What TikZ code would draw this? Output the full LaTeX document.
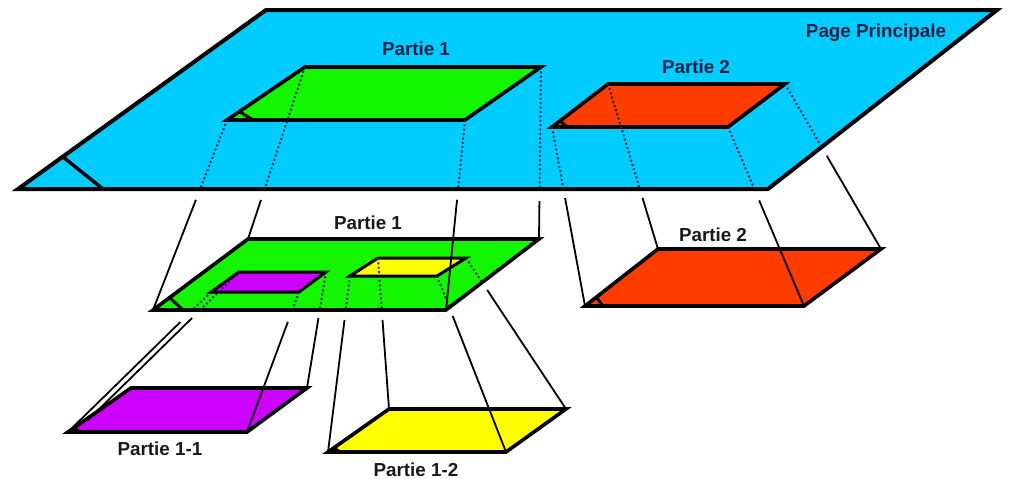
\documentclass[tikz,border=0pt]{standalone}
\usepackage{fontspec}
\setmainfont{Liberation Sans}
\usetikzlibrary{calc}

\definecolor{skyfill}{RGB}{0,204,255}
\definecolor{leaffill}{RGB}{20,245,0}
\definecolor{flamefill}{RGB}{255,60,0}
\definecolor{violetfill}{RGB}{204,0,255}
\definecolor{lemonfill}{RGB}{255,255,0}
\definecolor{inkblue}{RGB}{22,32,70}
\definecolor{inkdark}{RGB}{25,25,25}
\definecolor{dotink}{RGB}{25,35,70}

\tikzset{
  plane/.style={draw=black, line width=3.6pt, line join=miter},
  innerplane/.style={draw=black, line width=3pt, line join=miter},
  fold/.style={draw=black, line width=3pt},
  hidden/.style={draw=dotink, line width=1.9pt, dash pattern=on 1.9pt off 2.5pt},
  proj/.style={draw=black, line width=1.8pt},
  lbl/.style={font=\bfseries\fontsize{18.8}{22}\selectfont, anchor=base, inner sep=0pt},
}

\begin{document}
\begin{tikzpicture}[x=1pt,y=-1pt]
\useasboundingbox (0,0) rectangle (1010,479);

% ---- corner points of every sheet ----
% main page
\coordinate (bBL) at (18,189);  \coordinate (bTL) at (266,10);
\coordinate (bTR) at (997,10);  \coordinate (bBR) at (768,189);
% part 1 on the main page
\coordinate (g1BL) at (227,120); \coordinate (g1TL) at (305,67);
\coordinate (g1TR) at (541,67);  \coordinate (g1BR) at (465,120);
% part 2 on the main page
\coordinate (o1BL) at (552,127); \coordinate (o1TL) at (608,84);
\coordinate (o1TR) at (785,84);  \coordinate (o1BR) at (728,127);
% part 1 page
\coordinate (g2BL) at (153,310); \coordinate (g2TL) at (248,239);
\coordinate (g2TR) at (539,239); \coordinate (g2BR) at (446,310);
% part 1-1 on the part 1 page
\coordinate (p1BL) at (211,292); \coordinate (p1TL) at (239,272);
\coordinate (p1TR) at (326,272); \coordinate (p1BR) at (299,292);
% part 1-2 on the part 1 page
\coordinate (y1BL) at (350,276); \coordinate (y1TL) at (378,258);
\coordinate (y1TR) at (466,258); \coordinate (y1BR) at (437,276);
% part 2 page
\coordinate (o2BL) at (585,306); \coordinate (o2TL) at (658,249);
\coordinate (o2TR) at (881,249); \coordinate (o2BR) at (804,306);
% part 1-1 page
\coordinate (p2BL) at (68,432);  \coordinate (p2TL) at (131,388);
\coordinate (p2TR) at (307,388); \coordinate (p2BR) at (247,432);
\coordinate (p2end) at (88,420);
% part 1-2 page
\coordinate (y2BL) at (328,452); \coordinate (y2TL) at (389,409);
\coordinate (y2TR) at (566,409); \coordinate (y2BR) at (506,452);

% ---- main page with its two parts ----
\draw[plane, fill=skyfill, line width=4pt] (bBL) -- (bTL) -- (bTR) -- (bBR) -- cycle;
\draw[fold, line width=3.4pt] (63,157) -- (103,189);

\draw[plane, fill=leaffill] (g1BL) -- (g1TL) -- (g1TR) -- (g1BR) -- cycle;
\draw[fold] (240,112) -- (253,120);
\draw[plane, fill=flamefill] (o1BL) -- (o1TL) -- (o1TR) -- (o1BR) -- cycle;
\draw[fold] (559,120) -- (567,127);

% hidden runs across the main page
\draw[hidden] (g1BL) -- ($(g1BL)!0.368!(g2BL)$);
\draw[hidden] (g1TL) -- ($(g1TL)!0.715!(g2TL)$);
\draw[hidden] (g1BR) -- ($(g1BR)!0.36!(g2BR)$);
\draw[hidden] (g1TR) -- ($(g1TR)!0.715!(g2TR)$);
\draw[hidden] (o1BL) -- ($(o1BL)!0.352!(o2BL)$);
\draw[hidden] (o1TL) -- ($(o1TL)!0.642!(o2TL)$);
\draw[hidden] (o1BR) -- ($(o1BR)!0.348!(o2BR)$);
\draw[hidden] (o1TR) -- ($(o1TR)!0.382!(o2TR)$);

% ---- part 1 page with its two parts ----
\draw[plane, fill=leaffill] (g2BL) -- (g2TL) -- (g2TR) -- (g2BR) -- cycle;
\draw[fold] (170,298) -- (183,310);
\draw[innerplane, fill=violetfill] (p1BL) -- (p1TL) -- (p1TR) -- (p1BR) -- cycle;
\draw[innerplane, fill=lemonfill] (y1BL) -- (y1TL) -- (y1TR) -- (y1BR) -- cycle;

% hidden runs across the part 1 page
\draw[hidden] (p1BL) -- ($(p1BL)!0.129!(p2BL)$);
\draw[hidden] (p1TL) -- ($(p1TL)!0.257!(p2end)$);
\draw[hidden] (p1BR) -- ($(p1BR)!0.129!(p2BR)$);
\draw[hidden] (p1TR) -- ($(p1TR)!0.328!(p2TR)$);
\draw[hidden] (y1BL) -- ($(y1BL)!0.193!(y2BL)$);
\draw[hidden] (y1TL) -- ($(y1TL)!0.344!(y2TL)$);
\draw[hidden] (y1BR) -- ($(y1BR)!0.18!(y2BR)$);
\draw[hidden] (y1TR) -- ($(y1TR)!0.162!(y2TR)$);

% ---- lower pages ----
\draw[plane, fill=flamefill] (o2BL) -- (o2TL) -- (o2TR) -- (o2BR) -- cycle;
\draw[fold] (596,297) -- (603,306);
\draw[plane, fill=violetfill] (p2BL) -- (p2TL) -- (p2TR) -- (p2BR) -- cycle;
\draw[fold] (74,428) -- (80,432);
\draw[plane, fill=lemonfill] (y2BL) -- (y2TL) -- (y2TR) -- (y2BR) -- cycle;
\draw[fold] (334,448) -- (340,452);

% ---- projection lines down to each page ----
\draw[proj] ($(g1BL)!0.42!(g2BL)$) -- (g2BL);
\draw[proj] ($(g1TL)!0.773!(g2TL)$) -- (g2TL);
\draw[proj] ($(g1BR)!0.42!(g2BR)$) -- (g2BR);
\draw[proj] ($(g1TR)!0.78!(g2TR)$) -- (g2TR);

\draw[proj] ($(o1BL)!0.397!(o2BL)$) -- (o2BL);
\draw[proj] ($(o1TL)!0.69!(o2TL)$) -- (o2TL);
\draw[proj] ($(o1BR)!0.41!(o2BR)$) -- (o2BR);
\draw[proj] ($(o1TR)!0.435!(o2TR)$) -- (o2TR);

\draw[proj] ($(p1BL)!0.214!(p2BL)$) -- (p2BL);
\draw[proj] ($(p1TL)!0.311!(p2end)$) -- (p2end);
\draw[proj] ($(p1BR)!0.214!(p2BR)$) -- (p2BR);
\draw[proj] ($(p1TR)!0.397!(p2TR)$) -- (p2TR);

\draw[proj] ($(y1BL)!0.25!(y2BL)$) -- (y2BL);
\draw[proj] ($(y1TL)!0.41!(y2TL)$) -- (y2TL);
\draw[proj] ($(y1BR)!0.227!(y2BR)$) -- (y2BR);
\draw[proj] ($(y1TR)!0.212!(y2TR)$) -- (y2TR);

% ---- labels ----
\node[lbl, text=inkblue] (tMain) at (876,37) {Page Principale};
\node[lbl, text=inkblue] (tP1a) at (416,55) {Partie 1};
\node[lbl, text=inkblue] (tP2a) at (696,73) {Partie 2};
\node[lbl, text=inkdark] (tP1b) at (368,229) {Partie 1};
\node[lbl, text=inkdark] (tP2b) at (713,241) {Partie 2};
\node[lbl, text=inkdark] (tP11) at (160,455) {Partie 1-1};
\node[lbl, text=inkdark] (tP12) at (416,476) {Partie 1-2};
\end{tikzpicture}
\end{document}
